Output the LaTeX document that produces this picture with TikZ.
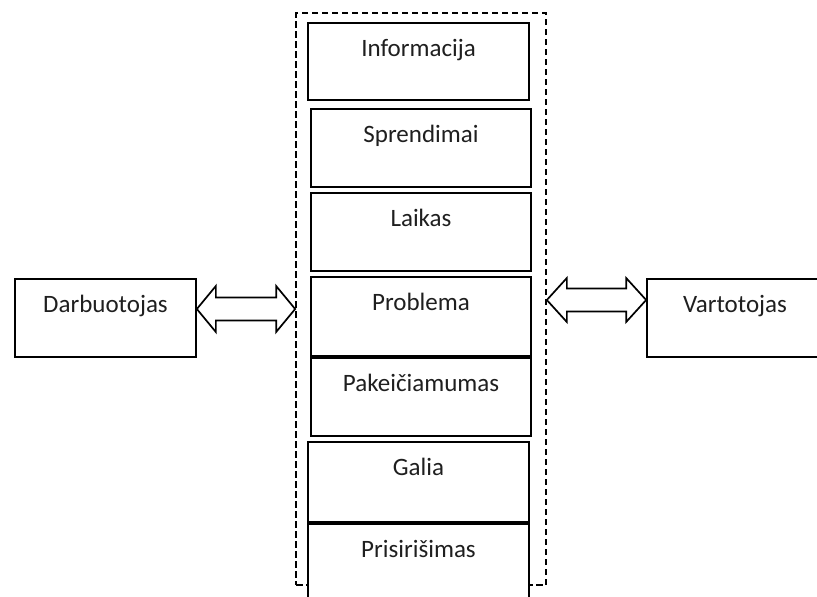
\documentclass[tikz,border=0pt]{standalone}
\usepackage{fontspec}
\setmainfont{Carlito}
\usetikzlibrary{calc}

\tikzset{
  part/.style={draw=black, line width=1.7pt, fill=white, rectangle, inner sep=0pt},
  frame/.style={draw=black, line width=1.7pt, dash pattern=on 6.5pt off 3.5pt, rectangle, inner sep=0pt},
  twoway/.style={draw=black, line width=1.7pt, fill=white, line join=miter},
  caption/.style={anchor=base, yshift=-34pt, font=\fontsize{25}{28}\selectfont, text=black!88}
}

% double-headed block arrow between two points on one level
% #1 start tip, #2 end tip, #3 head length, #4 head half-width, #5 shaft half-width
\newcommand{\blockarrow}[5]{%
  \draw[twoway] (#1) -- ++(#3,-#4) -- ++(0,#4-#5)
    -- ($(#2)+(-#3,-#5)$) -- ++(0,#5-#4) -- (#2)
    -- ++(-#3,#4) -- ++(0,#5-#4)
    -- ($(#1)+(#3,#5)$) -- ++(0,#4-#5) -- cycle;}

\begin{document}
\begin{tikzpicture}[x=1pt, y=-1pt]
  \useasboundingbox (0,0) rectangle (817,597);
  \clip (0,0) rectangle (817,597);

  % dashed boundary around the stack
  \node[frame, minimum width=250pt, minimum height=572pt] (frame) at (421,299) {};

  % stacked components
  \node[part, minimum width=221pt, minimum height=77pt, label={[caption]north:Informacija}] (info) at (418.5,61.5) {};
  \node[part, minimum width=220pt, minimum height=78pt, label={[caption]north:Sprendimai}] (spr) at (421,148) {};
  \node[part, minimum width=220pt, minimum height=78pt, label={[caption]north:Laikas}] (laik) at (421,232) {};
  \node[part, minimum width=220pt, minimum height=79pt, label={[caption]north:Problema}] (prob) at (421,316.5) {};
  \node[part, minimum width=220pt, minimum height=78pt, label={[caption]north:Pakeičiamumas}] (pak) at (421,397) {};
  \node[part, minimum width=221pt, minimum height=80pt, label={[caption]north:Galia}] (galia) at (418.5,482) {};
  \node[part, minimum width=221pt, minimum height=96pt, label={[caption]north:Prisirišimas}] (pris) at (418.5,572) {};

  % side actors
  \node[part, minimum width=181pt, minimum height=78pt, label={[caption]north:Darbuotojas}] (darb) at (105.5,318) {};
  \node[part, minimum width=176pt, minimum height=78pt, label={[caption]north:Vartotojas}] (vart) at (735,318) {};

  % two-way links
  \coordinate (l1) at (darb.east |- 0,309);
  \coordinate (l2) at (frame.west |- 0,309);
  \coordinate (r1) at (frame.east |- 0,300);
  \coordinate (r2) at (vart.west |- 0,300);
  \blockarrow{l1}{l2}{19}{23}{11.5}
  \blockarrow{r1}{r2}{20}{22}{11.5}
\end{tikzpicture}
\end{document}
